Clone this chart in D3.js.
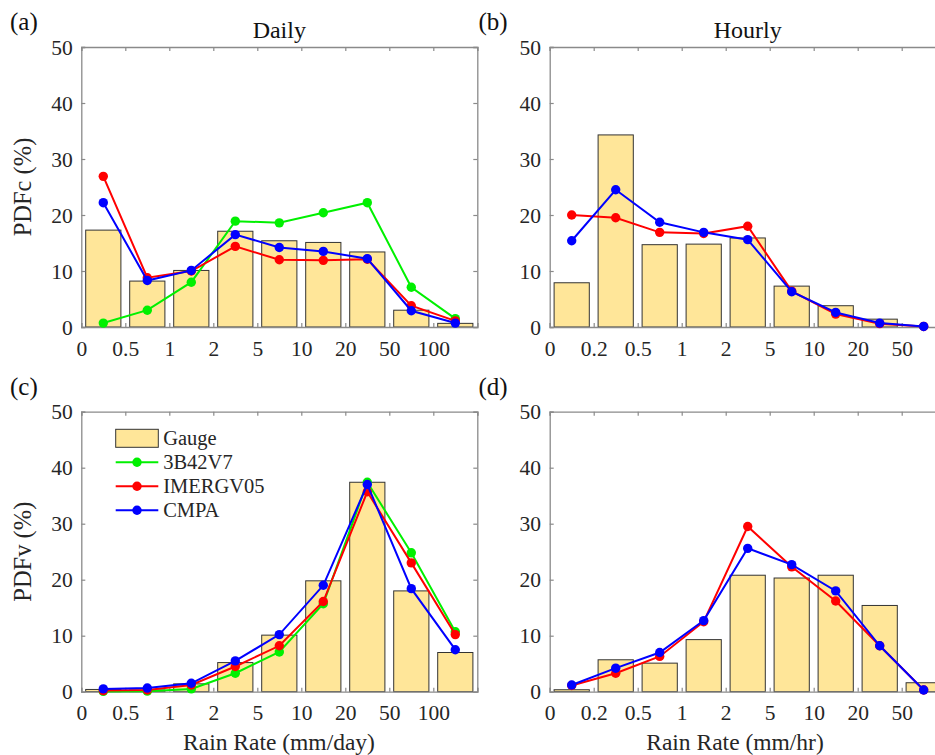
<!DOCTYPE html>
<html><head><meta charset="utf-8">
<script src="https://cdn.jsdelivr.net/npm/d3@7"></script>
<style>
body{margin:0;background:#fff}
text{font-family:"Liberation Serif","Times New Roman",serif}
</style>
</head><body>
<svg id="chart" width="935" height="755"></svg>
<script>
// ---- data ----
const dailyTickLabels  = ["0","0.5","1","2","5","10","20","50","100"];
const hourlyTickLabels = ["0","0.2","0.5","1","2","5","10","20","50"];
const yTicks = [0,10,20,30,40,50];
const seriesNames = ["Gauge","3B42V7","IMERGV05","CMPA"];
const seriesColors = {"3B42V7":"#00f000","IMERGV05":"#ff0000","CMPA":"#0000ff"};

// (a) Daily PDFc
const gaugeA = [17.3, 8.2, 10.1, 17.1, 15.4, 15.1, 13.4, 3.0, 0.65];
const trmmA  = [0.7, 3.0, 8.0, 18.9, 18.6, 20.4, 22.2, 7.1, 1.5];
const imergA = [26.9, 8.8, 10.0, 14.4, 12.0, 11.9, 12.1, 3.8, 1.1];
const cmpaA  = [22.2, 8.3, 10.1, 16.5, 14.2, 13.5, 12.2, 2.9, 0.7];
// (b) Hourly PDFc
const gaugeB = [7.9, 34.3, 14.7, 14.8, 15.9, 7.3, 3.8, 1.4, 0];
const imergB = [20.0, 19.5, 16.9, 16.7, 18.0, 6.4, 2.3, 0.6, 0.1];
const cmpaB  = [15.4, 24.5, 18.7, 16.9, 15.6, 6.3, 2.6, 0.7, 0.1];
// (c) Daily PDFv
const gaugeC = [0.4, 0.3, 1.4, 5.2, 10.1, 19.8, 37.4, 18.0, 7.0];
const trmmC  = [0.05, 0.1, 0.5, 3.3, 7.1, 15.7, 37.4, 24.8, 10.7];
const imergC = [0.2, 0.3, 1.2, 4.5, 8.2, 16.1, 35.7, 23.0, 10.2];
const cmpaC  = [0.5, 0.65, 1.5, 5.5, 10.2, 19.0, 37.0, 18.4, 7.5];
// (d) Hourly PDFv
const gaugeD = [0.35, 5.7, 5.1, 9.3, 20.8, 20.3, 20.8, 15.4, 1.6];
const imergD = [1.1, 3.3, 6.3, 12.5, 29.5, 22.3, 16.2, 8.2, 0.3];
const cmpaD  = [1.2, 4.2, 7.0, 12.7, 25.6, 22.7, 18.0, 8.2, 0.3];

// ---- layout ----
const svg = d3.select("#chart");
const W = 396, H = 280, nBins = 9;
const axisColor = "#8a8a8a", textColor = "#262626";
const serif = '"Liberation Serif","Times New Roman",serif';

const panels = [
  {x0:81.3, y0:47, tag:"(a)", title:"Daily", ylabel:"PDFc (%)", ticks:dailyTickLabels,
   gauge:gaugeA, lines:[["3B42V7",trmmA],["IMERGV05",imergA],["CMPA",cmpaA]]},
  {x0:549.7, y0:47, tag:"(b)", title:"Hourly", ylabel:null, ticks:hourlyTickLabels,
   gauge:gaugeB, lines:[["IMERGV05",imergB],["CMPA",cmpaB]]},
  {x0:81.3, y0:411.7, tag:"(c)", title:null, ylabel:"PDFv (%)", ticks:dailyTickLabels,
   gauge:gaugeC, lines:[["3B42V7",trmmC],["IMERGV05",imergC],["CMPA",cmpaC]],
   xlabel:"Rain Rate (mm/day)", xlabelX:279, legend:true},
  {x0:549.7, y0:411.7, tag:"(d)", title:null, ylabel:null, ticks:hourlyTickLabels,
   gauge:gaugeD, lines:[["IMERGV05",imergD],["CMPA",cmpaD]],
   xlabel:"Rain Rate (mm/hr)", xlabelX:735}
];

panels.forEach(p => {
  const g = svg.append("g").attr("transform", `translate(${p.x0},${p.y0})`);
  const x = d3.scaleLinear().domain([0, nBins]).range([0, W]);
  const y = d3.scaleLinear().domain([0, 50]).range([H, 0]);
  const bw = x(0.8) - x(0);

  // bars
  g.selectAll("rect.bar").data(p.gauge).join("rect")
    .attr("class","bar")
    .attr("x", (d,i) => x(i + 0.5) - bw/2)
    .attr("width", bw)
    .attr("y", d => y(d))
    .attr("height", d => y(0) - y(d))
    .attr("fill", "#ffe699")
    .attr("stroke", d => d > 0 ? "#333" : "none")
    .attr("stroke-width", 1);

  // axes box
  const tickLen = 4;
  const xb = d3.axisBottom(x).tickValues(d3.range(0, nBins + 1)).tickSize(-tickLen)
    .tickFormat(i => p.ticks[i] !== undefined ? p.ticks[i] : "");
  const xt = d3.axisTop(x).tickValues(d3.range(0, nBins + 1)).tickSize(-tickLen).tickFormat("");
  const yl = d3.axisLeft(y).tickValues(yTicks).tickSize(-tickLen);
  const yr = d3.axisRight(y).tickValues(yTicks).tickSize(-tickLen).tickFormat("");

  const gx = g.append("g").attr("transform", `translate(0,${H})`).call(xb);
  const gxt = g.append("g").call(xt);
  const gy = g.append("g").call(yl);
  const gyr = g.append("g").attr("transform", `translate(${W},0)`).call(yr);
  [gx,gxt,gy,gyr].forEach(a => {
    a.attr("font-family", serif).attr("font-size", 21.5);
    a.select(".domain").attr("stroke", axisColor).attr("stroke-width", 1.3);
    a.selectAll(".tick line").attr("stroke", axisColor).attr("stroke-width", 1.2);
    a.selectAll(".tick text").attr("fill", textColor);
  });
  gx.selectAll(".tick text").attr("dy", 0).attr("y", 28.5);
  gy.selectAll(".tick text").attr("x", -8.6).attr("dy", "0.33em");

  // lines
  p.lines.forEach(([name, vals]) => {
    const col = seriesColors[name];
    g.append("path").datum(vals)
      .attr("fill","none").attr("stroke", col).attr("stroke-width", 2)
      .attr("d", d3.line().x((d,i) => x(i + 0.5)).y(d => y(d)));
    g.selectAll(null).data(vals).join("circle")
      .attr("cx", (d,i) => x(i + 0.5)).attr("cy", d => y(d))
      .attr("r", 4.7).attr("fill", col);
  });

  // titles / labels
  svg.append("text").attr("x", p.x0 - 71.3).attr("y", p.y0 - 17)
    .attr("font-size", 25).attr("fill", "#111").text(p.tag);
  if (p.title) {
    svg.append("text").attr("x", p.x0 + W/2).attr("y", p.y0 - 9.5)
      .attr("text-anchor","middle").attr("font-size", 24).attr("fill", "#111").text(p.title);
  }
  if (p.ylabel) {
    svg.append("text")
      .attr("transform", `translate(${p.x0 - 50.5},${p.y0 + H/2}) rotate(-90)`)
      .attr("text-anchor","middle").attr("font-size", 24.5).attr("fill", textColor).text(p.ylabel);
  }
  if (p.xlabel) {
    svg.append("text").attr("x", p.xlabelX).attr("y", p.y0 + H + 58)
      .attr("text-anchor","middle").attr("font-size", 23.5).attr("fill", textColor).text(p.xlabel);
  }
  if (p.legend) {
    const lg = svg.append("g").attr("transform", `translate(${p.x0 + 34.4},${p.y0 + 26.6})`);
    seriesNames.forEach((name, k) => {
      const cy = k * 24;
      if (name === "Gauge") {
        lg.append("rect").attr("x", 0).attr("y", cy - 9).attr("width", 42.6).attr("height", 18)
          .attr("fill", "#ffe699").attr("stroke", "#333").attr("stroke-width", 1);
      } else {
        lg.append("line").attr("x1", 0).attr("x2", 42.6).attr("y1", cy).attr("y2", cy)
          .attr("stroke", seriesColors[name]).attr("stroke-width", 2);
        lg.append("circle").attr("cx", 21.3).attr("cy", cy).attr("r", 4.7)
          .attr("fill", seriesColors[name]);
      }
      lg.append("text").attr("x", 47.5).attr("y", cy).attr("dy", "0.35em")
        .attr("font-size", 20.5).attr("fill", textColor).text(name);
    });
  }
});
</script>
</body></html>
